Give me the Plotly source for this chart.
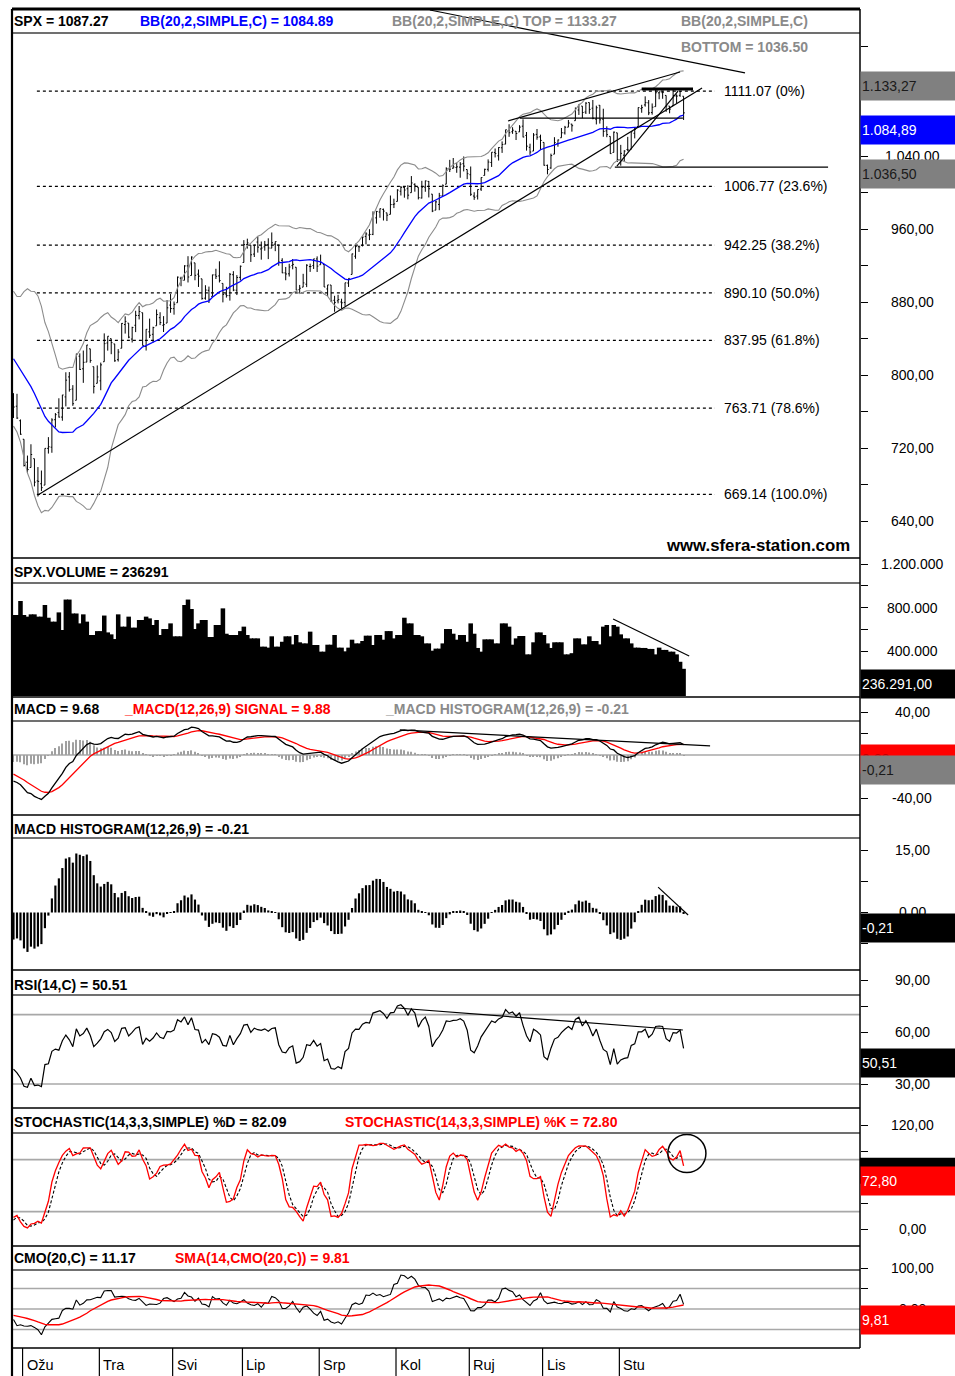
import numpy as np
import pandas as pd
import plotly.graph_objects as go

# ---------------- DATA ----------------
# warm-up closes (Dec 2008 - Feb 24 2009), needed for indicator history
warm_close = [816.21, 848.81, 870.74, 845.22, 876.07, 909.70, 888.67, 899.24, 873.59, 879.73, 868.57,
              913.18, 904.42, 885.28, 887.88, 871.63, 863.16, 868.15, 872.80, 869.42, 890.64, 903.25,
              931.80, 927.45, 934.70, 906.65, 909.73, 890.35, 870.26, 871.79, 842.62, 843.74, 850.12,
              805.22, 840.24, 827.50, 831.95, 836.57, 845.71, 874.09, 845.14, 825.88,
              825.44, 838.51, 832.23, 845.85, 868.60, 869.89, 827.16, 833.74, 835.19, 826.84, 789.17,
              788.42, 778.94, 770.05, 743.33, 773.14]
# warm-up highs / lows for the last 19 warm-up days (Jan 28 - Feb 24 2009)
warm_high = [877.9, 874.1, 851.7, 825.9, 842.6, 851.9, 850.6, 870.8, 877.0, 868.1, 838.2, 835.2, 839.4,
             826.8, 796.2, 797.6, 778.9, 777.5, 775.5]
warm_low = [845.7, 845.1, 821.7, 811.1, 821.9, 829.2, 819.9, 845.0, 860.0, 822.9, 822.9, 808.1, 825.2,
            789.1, 780.4, 777.0, 754.3, 742.4, 743.3]

month_days = {
    2: [25, 26, 27],
    3: [2, 3, 4, 5, 6, 9, 10, 11, 12, 13, 16, 17, 18, 19, 20, 23, 24, 25, 26, 27, 30, 31],
    4: [1, 2, 3, 6, 7, 8, 9, 13, 14, 15, 16, 17, 20, 21, 22, 23, 24, 27, 28, 29, 30],
    5: [1, 4, 5, 6, 7, 8, 11, 12, 13, 14, 15, 18, 19, 20, 21, 22, 26, 27, 28, 29],
    6: [1, 2, 3, 4, 5, 8, 9, 10, 11, 12, 15, 16, 17, 18, 19, 22, 23, 24, 25, 26, 29, 30],
    7: [1, 2, 6, 7, 8, 9, 10, 13, 14, 15, 16, 17, 20, 21, 22, 23, 24, 27, 28, 29, 30, 31],
    8: [3, 4, 5, 6, 7, 10, 11, 12, 13, 14, 17, 18, 19, 20, 21, 24, 25, 26, 27, 28, 31],
    9: [1, 2, 3, 4, 8, 9, 10, 11, 14, 15, 16, 17, 18, 21, 22, 23, 24, 25, 28, 29, 30],
    10: [1, 2, 5, 6, 7, 8, 9, 12, 13, 14, 15, 16, 19, 20, 21, 22, 23, 26, 27, 28, 29, 30],
    11: [2, 3, 4, 5, 6, 9, 10, 11, 12, 13, 16, 17, 18, 19, 20, 23, 24, 25, 27],
}
dates = [f"2009-{m:02d}-{d:02d}" for m in sorted(month_days) for d in month_days[m]]

opens = [770.6, 765.8, 749.9,
         729.6, 704.4, 698.6, 708.3, 684.0, 680.8, 679.3, 719.6, 720.9, 751.0, 758.8, 753.9, 776.0, 797.9, 784.6, 772.3, 820.6, 806.8, 814.1, 828.7, 809.1, 790.9,
         793.6, 814.5, 835.1, 839.8, 834.1, 816.8, 829.3, 855.3, 856.9, 839.4, 854.5, 865.2, 868.3, 831.3, 847.3, 844.6, 853.9, 862.8, 854.5, 856.9, 876.6,
         872.7, 879.2, 906.1, 903.8, 919.6, 909.0, 922.9, 910.5, 905.4, 884.2, 892.8, 886.1, 909.7, 908.6, 900.4, 888.7, 887.0, 909.9, 892.9, 907.0,
         923.3, 942.9, 942.5, 932.5, 945.7, 938.1, 940.4, 942.7, 939.0, 943.4, 942.5, 925.6, 911.9, 910.9, 919.9, 918.1, 893.5, 896.3, 899.5, 918.8, 919.9, 927.2,
         920.8, 921.2, 894.3, 898.6, 881.9, 881.3, 880.0, 879.6, 900.8, 910.2, 930.2, 940.6, 942.1, 951.9, 953.4, 954.1, 972.2, 978.6, 981.5, 977.7, 976.0, 986.8,
         990.2, 1001.4, 1005.4, 1004.1, 999.8, 1008.9, 1005.8, 994.0, 1005.9, 1012.2, 998.2, 980.6, 986.9, 996.4, 1009.1, 1026.6, 1026.6, 1027.4, 1027.8, 1031.6, 1025.2,
         1019.5, 996.1, 996.1, 1003.8, 1018.7, 1025.4, 1032.9, 1043.9, 1040.2, 1049.0, 1053.0, 1067.9, 1066.6, 1067.1, 1066.4, 1072.7, 1062.6, 1049.5, 1045.4, 1063.7, 1061.0,
         1054.9, 1029.7, 1026.9, 1042.0, 1053.7, 1060.0, 1065.3, 1071.6, 1074.9, 1078.7, 1090.4, 1094.7, 1088.2, 1098.6, 1092.4, 1080.4, 1095.6, 1080.4, 1067.5, 1061.5, 1043.9, 1065.4,
         1036.2, 1040.9, 1047.1, 1047.3, 1064.9, 1072.3, 1091.9, 1096.0, 1098.3, 1087.6, 1094.1, 1109.2, 1109.4, 1106.4, 1094.7, 1094.9, 1105.8, 1106.5, 1105.5]
highs = [780.1, 779.4, 751.3,
         729.6, 711.7, 724.1, 708.3, 699.1, 695.3, 719.6, 731.9, 752.6, 758.3, 774.5, 778.2, 803.0, 803.2, 788.9, 823.4, 823.7, 826.8, 832.9, 828.7, 809.1, 810.5,
         813.6, 845.6, 842.5, 839.8, 834.1, 828.4, 856.9, 864.3, 856.9, 852.9, 870.4, 875.6, 868.3, 850.1, 861.8, 852.9, 871.8, 868.8, 864.5, 882.1, 888.7,
         880.5, 907.9, 907.7, 920.3, 930.2, 930.0, 922.9, 915.6, 905.4, 898.4, 896.9, 910.0, 916.4, 924.6, 900.4, 896.7, 911.8, 913.8, 909.5, 920.0,
         947.8, 949.4, 942.5, 942.5, 951.7, 946.3, 946.9, 949.8, 956.2, 946.3, 942.5, 928.0, 918.4, 921.9, 927.1, 918.1, 898.7, 910.9, 921.4, 922.0, 927.3, 930.0,
         931.9, 921.2, 898.7, 898.6, 886.8, 887.9, 883.6, 901.1, 905.8, 933.0, 943.9, 941.9, 951.6, 956.5, 959.8, 979.4, 979.8, 982.5, 982.4, 977.8, 996.7, 993.2,
         1003.6, 1007.1, 1006.6, 1008.0, 1018.0, 1010.1, 1005.8, 1012.8, 1013.1, 1012.6, 998.2, 991.2, 999.6, 1008.9, 1027.6, 1035.8, 1037.8, 1032.5, 1033.3, 1039.5, 1025.2,
         1028.5, 1000.3, 1003.4, 1016.5, 1026.1, 1036.3, 1044.2, 1048.2, 1049.7, 1056.0, 1068.8, 1074.8, 1071.5, 1067.3, 1073.8, 1080.2, 1066.3, 1053.5, 1065.1, 1069.6, 1063.4,
         1054.9, 1030.6, 1042.6, 1060.6, 1058.0, 1070.7, 1073.0, 1079.5, 1075.3, 1093.2, 1096.6, 1094.7, 1099.0, 1098.6, 1101.4, 1095.2, 1095.8, 1091.8, 1072.5, 1061.5, 1066.8, 1065.4,
         1052.2, 1046.4, 1061.0, 1066.7, 1071.5, 1093.2, 1096.1, 1105.4, 1101.3, 1097.6, 1113.7, 1110.4, 1111.1, 1106.4, 1094.7, 1112.4, 1107.6, 1111.2, 1105.5]
lows = [752.9, 751.8, 734.5,
        699.7, 692.3, 698.6, 677.9, 666.8, 672.9, 679.3, 713.9, 714.8, 742.5, 753.4, 749.9, 765.6, 781.8, 766.2, 772.3, 805.5, 791.4, 814.1, 813.4, 779.8, 790.9,
        783.3, 814.5, 826.7, 822.8, 814.5, 814.8, 829.3, 845.4, 840.3, 835.6, 847.0, 860.9, 832.3, 826.8, 840.6, 835.6, 853.9, 854.7, 847.1, 856.9, 868.2,
        866.1, 879.2, 897.3, 903.8, 901.4, 909.0, 903.8, 896.5, 882.5, 882.5, 878.9, 886.1, 905.2, 901.4, 879.6, 884.8, 881.5, 891.9, 887.6, 903.6,
        923.3, 938.5, 923.9, 929.3, 934.1, 926.4, 936.2, 927.0, 939.0, 935.7, 919.7, 911.6, 903.8, 907.9, 915.8, 893.0, 888.9, 896.3, 896.3, 913.0, 916.2, 912.9,
        920.8, 896.4, 886.4, 879.9, 869.3, 878.5, 872.8, 875.3, 896.5, 910.2, 927.4, 934.9, 940.9, 943.2, 947.8, 953.3, 965.9, 972.3, 969.3, 968.7, 976.0, 982.9,
        990.2, 996.7, 994.3, 992.5, 999.8, 1000.9, 992.4, 993.4, 1000.8, 994.6, 978.5, 980.6, 980.6, 996.4, 1009.1, 1022.5, 1026.2, 1021.6, 1016.2, 1023.1, 1014.6,
        996.3, 991.9, 992.3, 1001.7, 1018.7, 1023.0, 1028.0, 1038.4, 1035.0, 1043.4, 1052.9, 1061.0, 1064.3, 1057.5, 1066.4, 1060.4, 1045.9, 1041.2, 1045.4, 1057.8, 1046.5,
        1029.4, 1019.9, 1025.9, 1042.0, 1050.2, 1060.0, 1063.5, 1071.6, 1066.7, 1078.7, 1085.0, 1081.5, 1086.0, 1086.2, 1080.2, 1074.6, 1075.5, 1061.1, 1060.6, 1042.3, 1043.9, 1033.4,
        1029.4, 1033.9, 1045.2, 1047.3, 1059.3, 1072.3, 1087.4, 1094.1, 1084.8, 1085.3, 1094.1, 1102.2, 1102.7, 1088.4, 1086.8, 1094.9, 1097.6, 1104.8, 1079.5]
closes = [764.90, 752.83, 735.09,
          700.82, 696.33, 712.87, 682.55, 683.38, 676.53, 719.60, 721.36, 750.74, 756.55, 753.89, 778.12, 794.35, 784.04, 768.54, 822.92, 806.12, 813.88, 832.86, 815.94, 787.53, 797.87,
          811.08, 834.38, 842.50, 835.48, 815.55, 825.16, 856.56, 858.73, 841.50, 852.06, 865.30, 869.60, 832.39, 850.08, 843.55, 851.92, 866.23, 857.51, 855.16, 873.64, 872.81,
          877.52, 907.24, 903.80, 919.53, 907.39, 929.23, 909.24, 908.35, 883.92, 893.07, 882.88, 909.71, 908.13, 903.47, 888.33, 887.00, 910.33, 893.06, 906.83, 919.14,
          942.87, 944.74, 931.76, 942.46, 940.09, 939.14, 942.43, 939.15, 944.89, 946.21, 923.72, 911.97, 910.71, 918.37, 921.23, 893.04, 895.10, 900.94, 920.26, 918.90, 927.23, 919.32,
          923.33, 896.42, 898.72, 881.03, 879.56, 882.68, 879.13, 901.05, 905.84, 932.68, 940.74, 940.38, 951.13, 954.58, 954.07, 976.29, 979.26, 982.18, 979.62, 975.15, 986.75, 987.48,
          1002.63, 1005.65, 1002.72, 997.08, 1010.48, 1007.10, 994.35, 1005.81, 1012.73, 1004.09, 979.73, 989.67, 996.46, 1007.37, 1026.13, 1025.57, 1028.00, 1028.12, 1030.98, 1028.93, 1020.62,
          998.04, 994.75, 1003.24, 1016.40, 1025.39, 1033.37, 1044.14, 1042.73, 1049.34, 1052.63, 1068.76, 1065.49, 1068.30, 1064.66, 1071.66, 1060.87, 1050.78, 1044.38, 1062.98, 1060.61, 1057.08,
          1029.85, 1025.21, 1040.46, 1054.72, 1057.58, 1065.48, 1071.49, 1076.19, 1073.19, 1092.02, 1096.56, 1087.68, 1097.91, 1091.06, 1081.40, 1092.91, 1079.60, 1066.95, 1063.41, 1042.63, 1066.11, 1036.19,
          1042.88, 1045.41, 1046.50, 1066.63, 1069.30, 1093.08, 1093.01, 1098.51, 1087.24, 1093.48, 1109.30, 1110.32, 1109.80, 1094.90, 1091.38, 1106.24, 1105.65, 1110.63, 1087.27]
volumes = [731000, 731000, 860000,
           731000, 716000, 737000, 737000, 716000, 716000, 823000, 706000, 670000, 670000, 755000, 593000, 873000, 873000, 745000, 745000, 654000, 737000, 670000, 547000, 547000, 583000,
           583000, 726000, 571000, 553000, 510000, 737000, 624000, 624000, 716000, 615000, 615000, 685000, 685000, 716000, 700000, 639000, 685000, 547000, 602000, 602000, 654000,
           535000, 535000, 535000, 823000, 873000, 786000, 602000, 654000, 685000, 685000, 529000, 529000, 639000, 639000, 792000, 559000, 547000, 547000, 547000, 583000,
           624000, 547000, 516000, 516000, 516000, 440000, 440000, 431000, 535000, 440000, 440000, 485000, 535000, 535000, 461000, 547000, 480000, 470000, 470000, 578000, 455000, 455000,
           394000, 394000, 458000, 458000, 547000, 431000, 431000, 397000, 431000, 504000, 470000, 470000, 492000, 541000, 541000, 455000, 547000, 547000, 504000, 583000, 583000, 516000,
           547000, 547000, 706000, 654000, 654000, 547000, 547000, 535000, 470000, 470000, 403000, 422000, 422000, 470000, 602000, 602000, 559000, 504000, 547000, 547000, 485000,
           654000, 559000, 428000, 394000, 507000, 507000, 507000, 470000, 470000, 654000, 654000, 624000, 458000, 516000, 538000, 538000, 369000, 369000, 480000, 571000, 571000,
           547000, 470000, 428000, 480000, 480000, 480000, 369000, 369000, 380000, 516000, 516000, 461000, 461000, 535000, 492000, 492000, 461000, 624000, 639000, 535000, 639000, 624000,
           553000, 516000, 516000, 470000, 431000, 431000, 428000, 428000, 419000, 419000, 369000, 431000, 410000, 410000, 394000, 394000, 369000, 301000, 236291]

month_labels = {3: "Ožu", 4: "Tra", 5: "Svi", 6: "Lip", 7: "Srp", 8: "Kol", 9: "Ruj", 10: "Lis", 11: "Stu"}

fib_values = [1111.07, 1006.77, 942.25, 890.10, 837.95, 763.71, 669.14]
fib_labels = ["1111.07 (0%)", "1006.77 (23.6%)", "942.25 (38.2%)", "890.10 (50.0%)",
              "837.95 (61.8%)", "763.71 (78.6%)", "669.14 (100.0%)"]

# analyst drawings: (bar index start, value start, bar index end, value end)
price_trend_lines = [(7.0, 668.5, 197.3, 1114.5), (141.7, 1078.4, 191.0, 1132.1),
                     (145.1, 1081.6, 191.8, 1081.6), (172.9, 1029.0, 190.4, 1111.2),
                     (172.3, 1027.9, 233.4, 1027.9), (119.3, 1200.0, 209.6, 1131.0)]
price_thick_line = (180.0, 1113.4, 194.7, 1113.4)
volume_trend_line = (171.8, 694000, 193.6, 354000)
macd_trend_line = (110.7, 23.3, 199.6, 8.4)
hist_trend_line = (184.7, 6.1, 193.3, -0.6)
rsi_trend_line = (109.9, 73.85, 191.8, 61.15)
stoch_circle = (187.5, 65.2, 198.4, 109.0)

# ---------------- INDICATORS ----------------
n_warm = len(warm_close)
c = pd.Series(warm_close + closes, dtype=float)
h = pd.Series([np.nan] * (n_warm - len(warm_high)) + warm_high + highs, dtype=float)
l = pd.Series([np.nan] * (n_warm - len(warm_low)) + warm_low + lows, dtype=float)

sma20 = c.rolling(20).mean()
sd20 = c.rolling(20).std(ddof=0)
bb_up, bb_lo = sma20 + 2 * sd20, sma20 - 2 * sd20
macd = c.ewm(span=12, adjust=False).mean() - c.ewm(span=26, adjust=False).mean()
signal = macd.ewm(span=9, adjust=False).mean()
hist = macd - signal
delta = c.diff()
gain = delta.clip(lower=0)
loss = (-delta).clip(lower=0)
rsi = 100 - 100 / (1 + gain.ewm(alpha=1 / 14, adjust=False).mean() / loss.ewm(alpha=1 / 14, adjust=False).mean())
raw_k = 100 * (c - l.rolling(14).min()) / (h.rolling(14).max() - l.rolling(14).min())
stoch_k = raw_k.rolling(3).mean()
stoch_d = stoch_k.rolling(3).mean()
up20, dn20 = gain.rolling(20).sum(), loss.rolling(20).sum()
cmo = 100 * (up20 - dn20) / (up20 + dn20)
cmo_sma = cmo.rolling(14).mean()


def tail(s):
    return s.iloc[n_warm:].tolist()


X = list(range(len(closes)))

# ---------------- LAYOUT HELPERS ----------------
W, H = 955, 1376
ML, MR, MT, MB = 12, 95, 9, 28
PW, PH = W - ML - MR, H - MT - MB
X_LEFT, X_RIGHT = -0.43, 242.55
FONT = "Liberation Sans, Arial, Helvetica, sans-serif"
GREY_TXT = "#8a8a8a"
T_SIZE = 14          # panel titles (bold)
L_SIZE = 14          # axis / label text


def px(x):
    return (x - ML) / PW


def py(y):
    return (H - MB - y) / PH


def xp(j):
    return (j - X_LEFT) / (X_RIGHT - X_LEFT)


def eur(v, dec=2):
    s = f"{v:,.{dec}f}"
    return s.replace(",", "#").replace(".", ",").replace("#", ".")


panels = {  # top px, bottom px, ref px, ref value, px per unit, tick values
    "y": (9, 558, 229, 960, 0.9125, list(range(640, 1161, 40))),
    "y2": (558, 697, 694.5, 0, 43.5 / 400000, [200000, 400000, 600000, 800000, 1000000, 1200000]),
    "y3": (697, 815, 755, 0, 1.075, [-40, -20, 0, 20, 40]),
    "y4": (815, 970, 912.5, 0, 62.5 / 15, [-7.5, 0, 7.5, 15]),
    "y5": (970, 1108, 1032, 60, 52 / 30, [30, 45, 60, 75, 90]),
    "y6": (1108, 1246, 1229, 0, 104 / 120, [0, 30, 60, 90, 120]),
    "y7": (1246, 1348, 1309, 0, 0.41, [-50, 0, 50, 100]),
}
ranges = {}
layout_axes = {}
for name, (top, bot, rpx, rval, ppu, tv) in panels.items():
    rng = [rval - (bot - rpx) / ppu, rval + (rpx - top) / ppu]
    ranges[name] = rng
    key = "yaxis" if name == "y" else "yaxis" + name[1:]
    layout_axes[key] = dict(domain=[py(bot), py(top)], range=rng, side="right", anchor="x",
                            showgrid=False, zeroline=False, showline=False, ticks="outside",
                            ticklen=7, tickwidth=1, tickcolor="black", tickvals=tv,
                            showticklabels=False, fixedrange=True)

fig = go.Figure()
line = lambda col, w=1.2, dash=None: dict(color=col, width=w, dash=dash)

# price panel
fig.add_trace(go.Scatter(x=X, y=tail(bb_up), mode="lines", line=line("#8c8c8c", 1.1), yaxis="y"))
fig.add_trace(go.Scatter(x=X, y=tail(bb_lo), mode="lines", line=line("#8c8c8c", 1.1), yaxis="y"))
fig.add_trace(go.Scatter(x=X, y=tail(sma20), mode="lines", line=line("#0000ff", 1.3), yaxis="y"))
fig.add_trace(go.Ohlc(x=X, open=opens, high=highs, low=lows, close=closes, tickwidth=0.35,
                      increasing=dict(line=dict(color="black", width=1)),
                      decreasing=dict(line=dict(color="black", width=1)), yaxis="y"))
# volume
vol_floor = ranges["y2"][0]
fig.add_trace(go.Bar(x=X, y=[v - vol_floor for v in volumes], base=vol_floor, width=1.3,
                     marker=dict(color="black", line=dict(width=0)), yaxis="y2"))
# MACD
fig.add_trace(go.Bar(x=X, y=tail(hist), width=0.3, marker=dict(color="#a0a0a0", line=dict(width=0)), yaxis="y3"))
fig.add_trace(go.Scatter(x=X, y=tail(signal), mode="lines", line=line("#ff0000", 1.3), yaxis="y3"))
fig.add_trace(go.Scatter(x=X, y=tail(macd), mode="lines", line=line("black", 1.3), yaxis="y3"))
# MACD histogram
fig.add_trace(go.Bar(x=X, y=tail(hist), width=0.62, marker=dict(color="black", line=dict(width=0)), yaxis="y4"))
# RSI
fig.add_trace(go.Scatter(x=X, y=tail(rsi), mode="lines", line=line("black", 1.2), yaxis="y5"))
# Stochastic
fig.add_trace(go.Scatter(x=X, y=tail(stoch_d), mode="lines", line=line("black", 1.1, "3px,2px"), yaxis="y6"))
fig.add_trace(go.Scatter(x=X, y=tail(stoch_k), mode="lines", line=line("#ff0000", 1.3), yaxis="y6"))
# CMO
fig.add_trace(go.Scatter(x=X, y=tail(cmo), mode="lines", line=line("black", 1.1), yaxis="y7"))
fig.add_trace(go.Scatter(x=X, y=tail(cmo_sma), mode="lines", line=line("#ff0000", 1.4), yaxis="y7"))

shapes = []
# grey reference lines
for yref, vals in [("y3", [0]), ("y5", [70, 30]), ("y6", [80, 20]), ("y7", [50, 0, -50])]:
    for v in vals:
        shapes.append(dict(type="line", xref="paper", x0=0, x1=1, yref=yref, y0=v, y1=v,
                           line=dict(color="#a8a8a8", width=1.6), layer="below"))
# fibonacci levels
for v in fib_values:
    shapes.append(dict(type="line", xref="x", yref="y", x0=6.7, x1=201, y0=v, y1=v,
                       line=dict(color="black", width=1.2, dash="3px,3px"), layer="below"))
# analyst lines
for (x0, y0, x1, y1) in price_trend_lines:
    shapes.append(dict(type="line", xref="x", yref="y", x0=x0, y0=y0, x1=x1, y1=y1,
                       line=dict(color="black", width=1.2)))
x0, y0, x1, y1 = price_thick_line
shapes.append(dict(type="line", xref="x", yref="y", x0=x0, y0=y0, x1=x1, y1=y1, line=dict(color="black", width=3)))
for yref, (x0, y0, x1, y1) in [("y2", volume_trend_line), ("y3", macd_trend_line),
                               ("y4", hist_trend_line), ("y5", rsi_trend_line)]:
    shapes.append(dict(type="line", xref="x", yref=yref, x0=x0, y0=y0, x1=x1, y1=y1,
                       line=dict(color="black", width=1.2)))
x0, y0, x1, y1 = stoch_circle
shapes.append(dict(type="circle", xref="x", yref="y6", x0=x0, y0=y0, x1=x1, y1=y1,
                   line=dict(color="black", width=1.5)))
# frame
for ypx, w, col in [(9, 3, "black"), (33, 1.5, "#404040"), (558, 1.8, "#404040"), (583, 1.5, "#404040"),
                    (697, 1.8, "#404040"), (721, 1.5, "#404040"), (815, 1.8, "#404040"), (838, 1.5, "#404040"),
                    (970, 1.8, "#404040"), (995, 1.5, "#404040"), (1108, 1.8, "#404040"), (1133, 1.5, "#404040"),
                    (1246, 1.8, "#404040"), (1270, 1.5, "#404040"), (1348, 1.8, "#404040")]:
    shapes.append(dict(type="line", xref="paper", yref="paper", x0=0, x1=1, y0=py(ypx), y1=py(ypx),
                       line=dict(color=col, width=w)))
shapes.append(dict(type="line", xref="paper", yref="paper", x0=px(12), x1=px(12), y0=py(9), y1=py(1376),
                   line=dict(color="black", width=2.2)))
shapes.append(dict(type="line", xref="paper", yref="paper", x0=1, x1=1, y0=py(9), y1=py(1348),
                   line=dict(color="black", width=1.5)))
# %D last-value marker (mostly hidden under the %K box)
shapes.append(dict(type="rect", xref="paper", yref="y6", x0=1, x1=px(955), y0=82.09, y1=82.09 - 26 / (104 / 120),
                   fillcolor="black", line=dict(width=0)))

annotations = []
# month separators & labels
month_starts = []
for i, d in enumerate(dates):
    m = int(d[5:7])
    if m in month_labels and (i == 0 or int(dates[i - 1][5:7]) != m):
        month_starts.append((i, month_labels[m]))
for i, lab in month_starts:
    xx = xp(i - 0.4)
    shapes.append(dict(type="line", xref="paper", yref="paper", x0=xx, x1=xx, y0=py(1348), y1=py(1376),
                       line=dict(color="black", width=1.2)))
    annotations.append(dict(text=lab, xref="paper", yref="paper", x=xx + 2 / PW, y=py(1365), xanchor="left",
                            yanchor="middle", showarrow=False, font=dict(family=FONT, size=14.5, color="black")))


def title(text, xpx, ypx, color="black", size=T_SIZE):
    annotations.append(dict(text=f"<b>{text}</b>", xref="paper", yref="paper", x=px(xpx), y=py(ypx),
                            xanchor="left", yanchor="middle", showarrow=False,
                            font=dict(family=FONT, size=size, color=color)))


title("SPX = 1087.27", 12, 21.5)
title("BB(20,2,SIMPLE,C) = 1084.89", 138, 21.5, "#0000ff")
title("BB(20,2,SIMPLE,C) TOP = 1133.27", 390, 21.5, GREY_TXT)
title("BB(20,2,SIMPLE,C)", 679, 21.5, GREY_TXT)
title("BOTTOM = 1036.50", 679, 47.5, GREY_TXT)
title("SPX.VOLUME = 236291", 12, 571.5)
title("MACD = 9.68", 12, 709)
title("_MACD(12,26,9) SIGNAL = 9.88", 122, 709, "#ff0000")
title("_MACD HISTOGRAM(12,26,9) = -0.21", 383, 709, GREY_TXT)
title("MACD HISTOGRAM(12,26,9) = -0.21", 12, 829)
title("RSI(14,C) = 50.51", 12, 984.5)
title("STOCHASTIC(14,3,3,SIMPLE) %D = 82.09", 12, 1121.5)
title("STOCHASTIC(14,3,3,SIMPLE) %K = 72.80", 343, 1121.5, "#ff0000")
title("CMO(20,C) = 11.17", 12, 1258)
title("SMA(14,CMO(20,C)) = 9.81", 173, 1258, "#ff0000")
annotations.append(dict(text="<b>www.sfera-station.com</b>", xref="paper", yref="paper", x=px(852), y=py(545),
                        xanchor="right", yanchor="middle", showarrow=False,
                        font=dict(family=FONT, size=16.8, color="black")))

# fib labels
for v, lab in zip(fib_values, fib_labels):
    annotations.append(dict(text=lab, xref="paper", yref="y", x=px(722), y=v, xanchor="left", yanchor="middle",
                            showarrow=False, font=dict(family=FONT, size=L_SIZE, color="black")))

# right-hand tick labels (those fully hidden behind value boxes are omitted)
tick_labels = [("y", [640, 720, 800, 880, 960, 1040], 2), ("y2", [400000, 800000, 1200000], 0),
               ("y3", [-40, 40], 2), ("y4", [0, 15], 2), ("y5", [30, 60, 90], 2),
               ("y6", [0, 120], 2), ("y7", [0, 100], 2)]
for yref, vals, dec in tick_labels:
    for v in vals:
        annotations.append(dict(text=eur(v, dec), xref="paper", yref=yref, x=px(912), y=v, xanchor="center",
                                yanchor="middle", showarrow=False, font=dict(family=FONT, size=L_SIZE, color="black")))

# last-value boxes (drawn after tick labels so they cover them)
value_boxes = [("y", 1133.27, "1.133,27", "#808080", "#1a1a1a"), ("y", 1084.89, "1.084,89", "#0000ff", "white"),
               ("y", 1036.50, "1.036,50", "#808080", "#1a1a1a"), ("y2", 236291, "236.291,00", "black", "white"),
               ("y3", 9.88, "9,88", "#ff0000", "#c00000"),
               ("y3", -0.21, "-0,21", "#808080", "#1a1a1a"), ("y4", -0.21, "-0,21", "black", "white"),
               ("y5", 50.51, "50,51", "black", "white"),
               ("y6", 72.80, "72,80", "#ff0000", "white"),
               ("y7", 9.81, "9,81", "#ff0000", "white")]
for yref, v, txt, bg, fg in value_boxes:
    annotations.append(dict(text=txt, xref="paper", yref=yref, x=1.0, y=v, xanchor="left", yanchor="top",
                            width=93, height=26, align="left", valign="middle", bgcolor=bg, borderpad=1,
                            showarrow=False, font=dict(family=FONT, size=L_SIZE, color=fg)))

fig.update_layout(
    width=W, height=H, margin=dict(l=ML, r=MR, t=MT, b=MB),
    paper_bgcolor="white", plot_bgcolor="white", showlegend=False, barmode="overlay",
    xaxis=dict(domain=[0, 1], range=[X_LEFT, X_RIGHT], visible=False, rangeslider=dict(visible=False),
               fixedrange=True),
    shapes=shapes, annotations=annotations, hovermode=False, font=dict(family=FONT),
    **layout_axes,
)

fig.write_html("out.html", config={"displayModeBar": False},
               post_script="document.body.style.margin='0px';")
